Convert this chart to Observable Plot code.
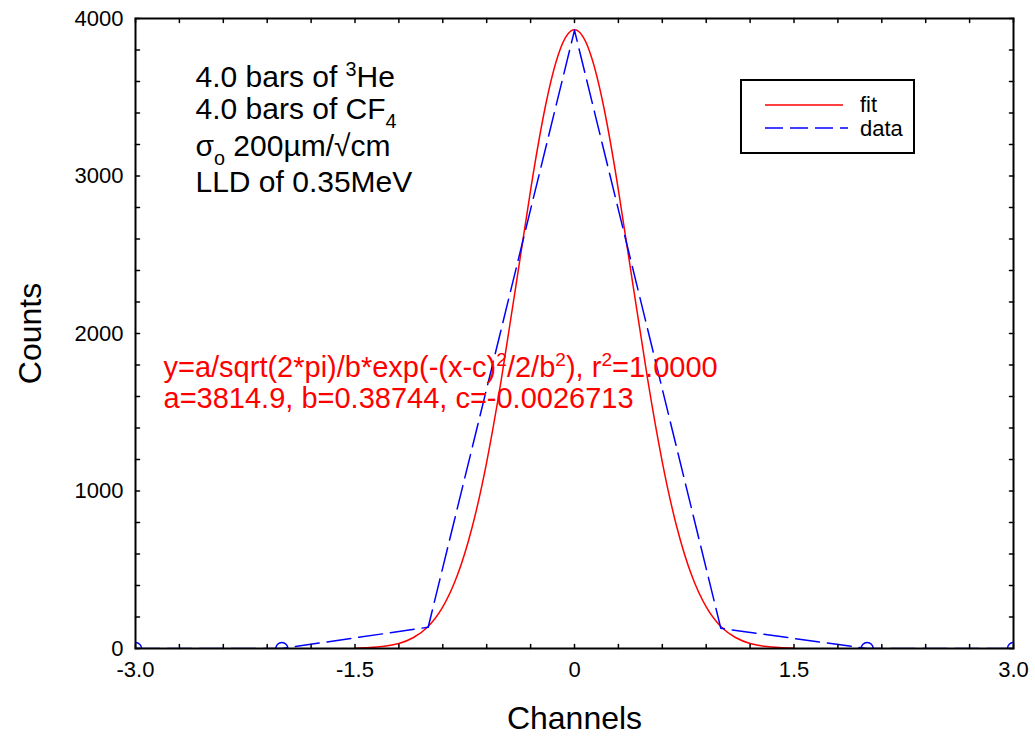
<!DOCTYPE html>
<html><head><meta charset="utf-8">
<script src="https://cdn.jsdelivr.net/npm/d3@7"></script>
<script src="https://cdn.jsdelivr.net/npm/@observablehq/plot@0.6"></script>
<style>body{margin:0;background:#fff;}</style>
</head><body><div id="chart"></div>
<script>
// measured data points
const channels = [-3, -2, -1, 0, 1, 2, 3];
const counts = [0, 0, 135, 3925, 128, 0, 0];
// fit curve
const fitChannels = [-1.5,-1.4,-1.3,-1.2,-1.1,-1.0,-0.9,-0.8,-0.7,-0.6,-0.5,-0.4,-0.3,-0.2,-0.1,0,0.1,0.2,0.3,0.4,0.5,0.6,0.7,0.8,0.9,1.0,1.1,1.2,1.3,1.4,1.5];
const fitCounts = [2,6,14,32,70,140,264,466,768,1184,1708,2305,2911,3438,3799,3928,3799,3438,2911,2305,1708,1184,768,466,264,140,70,32,14,6,2];
// axes
const xTicks = [-3,-2.7,-2.4,-2.1,-1.8,-1.5,-1.2,-0.9,-0.6,-0.3,0,0.3,0.6,0.9,1.2,1.5,1.8,2.1,2.4,2.7,3];
const xLabelTicks = [-3, -1.5, 0, 1.5, 3];
const xTickLabels = ["-3.0", "-1.5", "0", "1.5", "3.0"];
const yTicks = [0,200,400,600,800,1000,1200,1400,1600,1800,2000,2200,2400,2600,2800,3000,3200,3400,3600,3800,4000];
const yLabelTicks = [0, 1000, 2000, 3000, 4000];
const yTickLabels = ["0", "1000", "2000", "3000", "4000"];
// texts
const infoLines = ["4.0 bars of ^{3}He", "4.0 bars of CF_{4}", "σ_{o} 200µm/√cm", "LLD of 0.35MeV"];
const equationLines = ["y=a/sqrt(2*pi)/b*exp(-(x-c)^{2}/2/b^{2}), r^{2}=1.0000", "a=3814.9, b=0.38744, c=-0.0026713"];
const legendLabels = ["fit", "data"];
const xTitle = "Channels";
const yTitle = "Counts";

const dataRows = channels.map((x, i) => ({x, y: counts[i]}));
const fitRows = fitChannels.map((x, i) => ({x, y: fitCounts[i]}));

const font = "'Liberation Sans', Arial, sans-serif";
const tickShape = {draw(context, l) { context.moveTo(0, 0); context.lineTo(0, -l); }};
const tickStyle = {length: 4, anchor: "start", shape: tickShape, stroke: "#000", strokeWidth: 1.5};
const infoOffsets = [68, 100, 137, 173];

const svg = Plot.plot({
  width: 1035, height: 740,
  marginLeft: 135, marginRight: 22, marginTop: 18, marginBottom: 92,
  style: {fontFamily: font, fontSize: "22px", color: "#000", background: "#fff", overflow: "visible"},
  x: {domain: [-3, 3]},
  y: {domain: [0, 4000]},
  marks: [
    Plot.line(fitRows, {x: "x", y: "y", stroke: "#ff0000", strokeWidth: 1.5, curve: "natural", clip: true}),
    Plot.line(dataRows, {x: "x", y: "y", stroke: "#0000ff", strokeWidth: 1.5, strokeDasharray: "24,8", clip: true}),
    Plot.dot(dataRows.filter(d => d.y === 0), {x: "x", y: "y", r: 6, stroke: "#0000ff", strokeWidth: 1.5, clip: true}),
    // inward ticks on all four sides
    Plot.vector(xTicks, {x: d => d, frameAnchor: "bottom", rotate: 0, ...tickStyle}),
    Plot.vector(xTicks, {x: d => d, frameAnchor: "top", rotate: 180, ...tickStyle}),
    Plot.vector(yTicks, {y: d => d, frameAnchor: "left", rotate: 90, ...tickStyle}),
    Plot.vector(yTicks, {y: d => d, frameAnchor: "right", rotate: -90, ...tickStyle}),
    Plot.axisX({anchor: "bottom", ticks: xLabelTicks, tickSize: 0, tickPadding: 13, fontSize: 22,
      tickFormat: d => xTickLabels[xLabelTicks.indexOf(d)], label: null}),
    Plot.axisY({anchor: "left", ticks: yLabelTicks, tickSize: 0, tickPadding: 12, fontSize: 22,
      tickFormat: d => yTickLabels[yLabelTicks.indexOf(d)], label: null}),
    Plot.frame({stroke: "#000", strokeWidth: 2}),
    Plot.text([xTitle], {text: d => d, frameAnchor: "bottom", dy: 80, fontSize: 32, textAnchor: "middle"}),
    Plot.text([yTitle], {text: d => d, frameAnchor: "left", dx: -105, rotate: -90, fontSize: 32, textAnchor: "middle"}),
    ...infoLines.map((t, i) => Plot.text([t], {text: d => d, frameAnchor: "top-left", dx: 60, dy: infoOffsets[i],
      lineAnchor: "bottom", textAnchor: "start", fontSize: 30})),
    ...equationLines.map((t, i) => Plot.text([t], {text: d => d, frameAnchor: "top-left", dx: 28, dy: 358 + 31 * i,
      lineAnchor: "bottom", textAnchor: "start", fontSize: 29, fill: "#ff0000"}))
  ]
});

document.getElementById("chart").appendChild(svg);

// superscripts / subscripts
d3.select(svg).selectAll("text").each(function() {
  const s = this.textContent;
  if (!/[\^_]\{/.test(s)) return;
  const fs = parseFloat(getComputedStyle(this).fontSize);
  const parts = s.split(/(\^\{[^}]*\}|_\{[^}]*\})/).filter(p => p !== "");
  const el = d3.select(this);
  el.text(null);
  let shift = 0;
  for (const p of parts) {
    let target = 0, size = null, txt = p;
    if (p.startsWith("^{")) { target = -0.36 * fs; size = 0.66 * fs; txt = p.slice(2, -1); }
    else if (p.startsWith("_{")) { target = 0.33 * fs; size = 0.66 * fs; txt = p.slice(2, -1); }
    const t = el.append("tspan").text(txt).attr("dy", target - shift);
    if (size) t.attr("font-size", size);
    shift = target;
  }
});

// legend box
const lg = d3.select(svg).append("g").attr("font-family", font).attr("font-size", 22).attr("text-anchor", "start");
lg.append("rect").attr("x", 741).attr("y", 80).attr("width", 173).attr("height", 73)
  .attr("fill", "#fff").attr("stroke", "#000").attr("stroke-width", 2);
lg.append("line").attr("x1", 765).attr("x2", 843).attr("y1", 105).attr("y2", 105)
  .attr("stroke", "#ff0000").attr("stroke-width", 1.5);
lg.append("line").attr("x1", 765).attr("x2", 848).attr("y1", 128).attr("y2", 128)
  .attr("stroke", "#0000ff").attr("stroke-width", 1.5).attr("stroke-dasharray", "18,7");
lg.selectAll("text.lbl").data(legendLabels).join("text").attr("class", "lbl")
  .attr("x", 860).attr("y", (d, i) => 112 + 24 * i).attr("fill", "#000").text(d => d);
</script>
</body></html>
